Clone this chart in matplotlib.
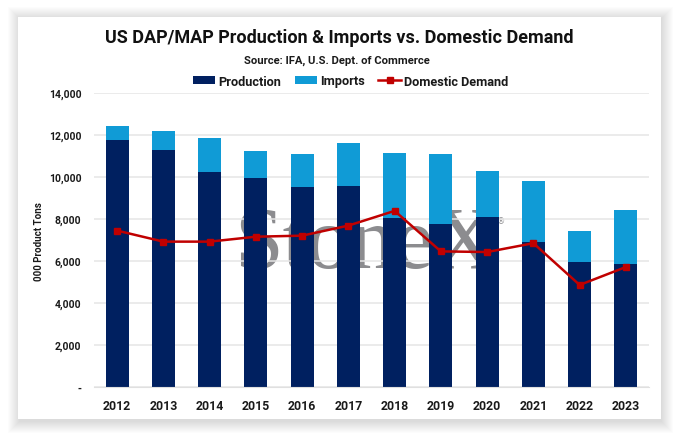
import matplotlib
matplotlib.use('Agg')
import matplotlib.pyplot as plt
from matplotlib.patches import Rectangle

plt.rcParams['font.family'] = ['Roboto', 'DejaVu Sans']

years = ['2012', '2013', '2014', '2015', '2016', '2017', '2018', '2019', '2020', '2021', '2022', '2023']
production = [11775, 11270, 10220, 9935, 9505, 9580, 8050, 7755, 8090, 6915, 5945, 5865]
imports = [635, 900, 1635, 1285, 1585, 2040, 3090, 3335, 2210, 2905, 1475, 2560]
demand = [7440, 6915, 6915, 7150, 7200, 7680, 8380, 6450, 6420, 6840, 4850, 5705]
y_ticks = [0, 2000, 4000, 6000, 8000, 10000, 12000, 14000]
y_labels = ['-', '2,000', '4,000', '6,000', '8,000', '10,000', '12,000', '14,000']

W, H = 680, 439
fig = plt.figure(figsize=(W / 100, H / 100), dpi=100, facecolor='white')

# tarjeta blanca con sombra suave
for i in range(12, 0, -1):
    fig.add_artist(Rectangle(((18 - i + 2) / W, 1 - (420 + i + 2) / H), (643 + 2 * i - 2) / W, (402 + 2 * i) / H,
                             transform=fig.transFigure, facecolor='black', edgecolor='none',
                             alpha=0.012, zorder=-5))
fig.add_artist(Rectangle((18 / W, 1 - 420 / H), 643 / W, 402 / H, transform=fig.transFigure,
                         facecolor='white', edgecolor='none', zorder=-4))

# marca de agua detras de las barras
fig.text(365 / W, 1 - 268 / H, 'StoneX', family='Liberation Serif', fontsize=63, color='#8c8c8f',
         ha='center', va='baseline', zorder=-3)
fig.text(501 / W, 1 - 222 / H, '®', family='DejaVu Sans', fontsize=6, color='#8c8c8f',
         ha='center', va='center', zorder=-3)

ax = fig.add_axes([94 / W, 1 - 387.7 / H, 555 / W, 293.7 / H])
ax.patch.set_alpha(0)
ax.bar(years, production, width=0.5, color='#002060', label='Production', zorder=2)
ax.bar(years, imports, width=0.5, bottom=production, color='#109BD6', label='Imports', zorder=2)
ax.plot(years, demand, color='#C00000', lw=1.8, marker='s', ms=4.2, label='Domestic Demand', zorder=3)

ax.set_xlim(-0.5, 11.5)
ax.set_ylim(0, 14000)
ax.set_yticks(y_ticks)
ax.set_yticklabels(y_labels)
ax.grid(axis='y', color='#e6e6e6', lw=1.1, zorder=1)
ax.set_axisbelow(True)
for s in ['top', 'right', 'left']:
    ax.spines[s].set_visible(False)
ax.spines['bottom'].set_color('#e0e0e0')
ax.tick_params(length=0)
ax.tick_params(axis='y', pad=9, labelsize=7.5, labelcolor='#1a1a1a')
ax.tick_params(axis='x', pad=9, labelsize=8.8, labelcolor='#1a1a1a')
for lab in ax.get_xticklabels() + ax.get_yticklabels():
    lab.set_fontweight('bold')

fig.text(39 / W, 1 - 241.5 / H, '000 Product Tons', rotation=90, ha='center', va='center',
         fontsize=7.0, fontweight='bold', color='#1a1a1a')
fig.text(339 / W, 1 - 38 / H, 'US DAP/MAP Production & Imports vs. Domestic Demand', ha='center', va='center',
         fontsize=13, fontweight='bold', color='#111111')
fig.text(336.5 / W, 1 - 61 / H, 'Source: IFA, U.S. Dept. of Commerce', ha='center', va='center',
         fontsize=8.1, fontweight='bold', color='#1a1a1a')

handles, labels = ax.get_legend_handles_labels()
order = [labels.index(n) for n in ['Production', 'Imports', 'Domestic Demand']]
leg = ax.legend([handles[i] for i in order], [labels[i] for i in order], loc='center',
                bbox_to_anchor=(350.5 / W, 1 - 82 / H), bbox_transform=fig.transFigure,
                ncol=3, frameon=False, fontsize=9.2, handlelength=1.75, handleheight=0.5,
                handletextpad=0.25, columnspacing=1.05, borderpad=0, labelspacing=0)
for t in leg.get_texts():
    t.set_fontweight('bold')
    t.set_color('#1a1a1a')

fig.savefig('out.png', dpi=100)
